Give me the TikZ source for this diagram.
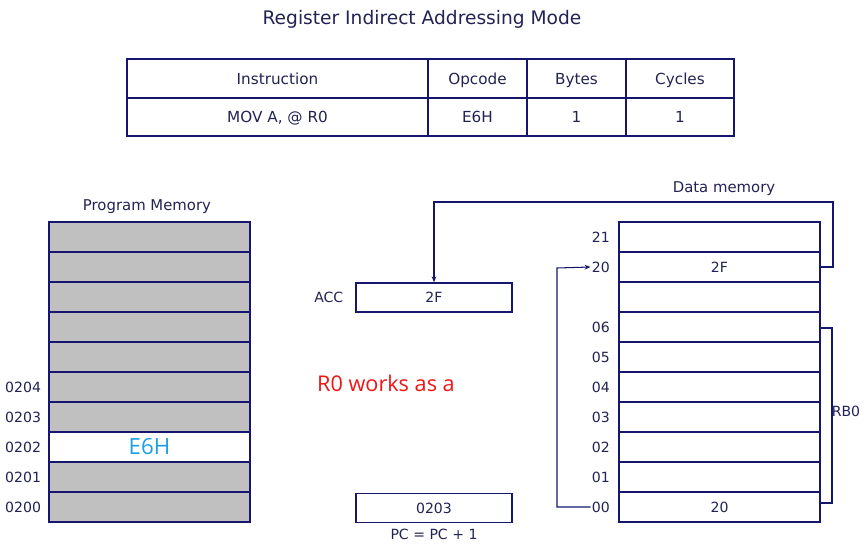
\documentclass[tikz,border=0pt]{standalone}
\usepackage{fontspec}
\setmainfont{DejaVu Sans}
\newfontfamily\notefont{Open Sans}
\usetikzlibrary{arrows.meta,positioning}
\definecolor{navy}{RGB}{22,22,110}
\definecolor{inknavy}{RGB}{34,34,84}
\definecolor{cellgray}{RGB}{192,192,192}
\definecolor{skyblue}{RGB}{28,160,232}
\definecolor{notered}{RGB}{240,20,20}

\begin{document}
\begin{tikzpicture}[x=0.03cm,y=-0.03cm,
  every node/.style={text=inknavy,font=\fontsize{12}{14}\selectfont},
  cell/.style={draw=navy,line width=1.3pt,minimum width=6.03cm,minimum height=0.9cm,inner sep=0pt},
  reg/.style={draw=navy,line width=1.3pt,minimum width=4.68cm,minimum height=0.87cm,inner sep=0pt},
  tab/.style={draw=navy,line width=1.3pt,inner sep=0pt,text height=10pt,text depth=0.6pt,font=\fontsize{13}{15}\selectfont},
  addr/.style={inner sep=1pt},
  memtitle/.style={font=\fontsize{12.7}{15}\selectfont},
  link/.style={draw=navy,line width=0.9pt},
  >={Stealth[length=5pt,width=4pt]}]
\useasboundingbox (0,0) rectangle (868,560);
\node[font=\fontsize{15.9}{18}\selectfont] (title) at (422,19) {Register Indirect Addressing Mode};
% table
\foreach \cx/\w/\head/\val [count=\c] in {277.5/301/Instruction/{MOV A, @ R0},477.5/99/Opcode/E6H,576.5/99/Bytes/1,680/108/Cycles/1}
{
  \node[tab,minimum width=\w*0.03cm,minimum height=1.17cm] (th\c) at (\cx,78.5) {\head};
  \node[tab,minimum width=\w*0.03cm,minimum height=1.14cm] (td\c) at (\cx,117) {\val};
}
% program memory
\node[memtitle] (pmtitle) at (147,207) {Program Memory};
\foreach \i in {0,...,9}
  \node[cell,fill=cellgray] (pm\i) at (149.5,237+30*\i) {};
\node[cell,fill=white,text=skyblue,font=\notefont\fontsize{19}{22}\selectfont] (pm7) at (149.5,447) {E6H};
\foreach \lab [count=\i from 5] in {0204,0203,0202,0201,0200}
  \node[addr,left=5pt of pm\i] (pl\i) {\lab};
% registers
\node[reg] (acc) at (434,297.5) {2F};
\node[addr,left=9pt of acc] (acclab) {ACC};
\node[reg] (pc) at (434,508) {0203};
\node[below=1pt of pc] (pclab) {PC = PC + 1};
\node[text=notered,font=\notefont\fontsize{18.5}{22}\selectfont,anchor=west] (note) at (313,383) {R0 works as a};
% data memory
\node[memtitle] (dmtitle) at (724,189) {Data memory};
\foreach \lab/\val [count=\i from 0] in {21/,20/2F,/,06/,05/,04/,03/,02/,01/,00/20}
{
  \node[cell] (dm\i) at (719.5,237+30*\i) {\val};
  \node[addr,left=6pt of dm\i] (dl\i) {\lab};
}
% connectors
\coordinate (bend) at (833,202);
\draw[link,->] (dm1.east) -| (bend) -| (acc.north);
\coordinate (ret) at (557,268);
\draw[link,->] (dl9.west) -| (ret) -- (dl1.west);
\coordinate (rbtop) at (832,328);
\coordinate (rbbot) at (832,503);
\draw[link] (820,328) -- (rbtop) -- (rbbot) -- (820,503);
\node (rb) at (846,411) {RB0};
\end{tikzpicture}
\end{document}
